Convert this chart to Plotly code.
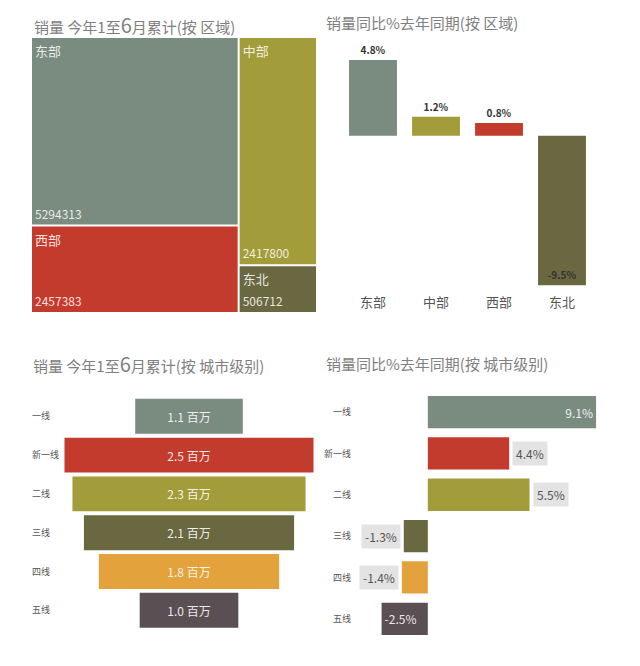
import plotly.graph_objects as go

# ---------------- data ----------------
regions = ["东部", "西部", "中部", "东北"]
region_sales = [5294313, 2457383, 2417800, 506712]
region_block = ["A", "A", "B", "B"]          # grouping used for the treemap layout

yoy_regions = ["东部", "中部", "西部", "东北"]
yoy_region_vals = [4.8, 1.2, 0.8, -9.5]

tiers = ["一线", "新一线", "二线", "三线", "四线", "五线"]
tier_sales_m = [1.08, 2.50, 2.34, 2.11, 1.81, 0.99]   # 百万
tier_yoy = [9.1, 4.4, 5.5, -1.3, -1.4, -2.5]
tier_label_pos = ["inside", "outside", "outside", "outside", "outside", "inside"]

region_colors = {"东部": "#7a8b7f", "西部": "#c33b2d", "中部": "#a39c3a", "东北": "#6a6841"}
tier_colors = ["#7a8b7f", "#c33b2d", "#a39c3a", "#6a6841", "#e3a23b", "#5a4f53"]

FONT = "Noto Sans CJK SC"
W, H = 640, 666


def px_x(p):
    return p / W


def px_y(p):
    return 1 - p / H


fig = go.Figure()

# ---------------- treemap ----------------
ids = ["root", "A", "B"] + regions
labels = ["", "", ""] + regions
parents = ["", "root", "root"] + region_block
values = [0, 0, 0] + region_sales
node_colors = ["white", "white", "white"] + [region_colors[r] for r in regions]
tm_domain = dict(x=[px_x(32), px_x(316)], y=[px_y(312), px_y(38)])

common = dict(
    ids=ids, labels=labels, parents=parents, values=values,
    branchvalues="remainder", domain=tm_domain, sort=True,
    tiling=dict(packing="slice-dice", pad=2),
    pathbar=dict(visible=False),
    hoverinfo="skip",
)
fig.add_trace(go.Treemap(
    **common,
    marker=dict(colors=node_colors, pad=dict(t=0, l=0, r=0, b=0), line=dict(width=0)),
    texttemplate=["", "", ""] + ["%{label}"] * 4,
    textposition="top left",
    textfont=dict(family=FONT, size=13, color="rgba(255,255,255,0.85)"),
))
fig.add_trace(go.Treemap(
    **common,
    marker=dict(colors=["rgba(0,0,0,0)"] * len(ids), pad=dict(t=0, l=0, r=0, b=0), line=dict(width=0)),
    texttemplate=["", "", ""] + ["%{value:d}"] * 4,
    textposition="bottom left",
    textfont=dict(family=FONT, size=12, color="rgba(255,255,255,0.85)"),
))

# ---------------- region YoY bars ----------------
fig.add_trace(go.Bar(
    x=yoy_regions, y=yoy_region_vals,
    marker=dict(color=[region_colors[r] for r in yoy_regions], line=dict(width=0)),
    width=0.76,
    text=[f"{v:.1f}%" for v in yoy_region_vals],
    textposition=["outside" if v > 0 else "inside" for v in yoy_region_vals],
    insidetextanchor="end",
    textfont=dict(family=FONT, size=10, color="#333", weight=600),
    insidetextfont=dict(family=FONT, size=10, color="#333", weight=600),
    outsidetextfont=dict(family=FONT, size=10, color="#333", weight=600),
    cliponaxis=False,
    xaxis="x", yaxis="y", hoverinfo="skip",
))

# ---------------- funnel ----------------
fig.add_trace(go.Funnel(
    y=tiers, x=tier_sales_m,
    marker=dict(color=tier_colors, line=dict(width=0)),
    texttemplate="%{x:.1f} 百万",
    textposition="inside",
    insidetextfont=dict(family=FONT, size=12, color="rgba(255,255,255,0.9)"),
    connector=dict(visible=False),
    xaxis="x2", yaxis="y2", hoverinfo="skip",
))

# ---------------- tier YoY bars ----------------
fig.add_trace(go.Bar(
    y=tiers, x=tier_yoy, orientation="h",
    marker=dict(color=tier_colors, line=dict(width=0)),
    width=0.78,
    text=[f"{v:.1f}%" if p == "inside" else "" for v, p in zip(tier_yoy, tier_label_pos)],
    textposition="inside", insidetextanchor="end",
    insidetextfont=dict(family=FONT, size=12, color="rgba(255,255,255,0.9)"),
    xaxis="x3", yaxis="y3", hoverinfo="skip",
))

annotations = []
for t, v, p in zip(tiers, tier_yoy, tier_label_pos):
    if p == "outside":
        annotations.append(dict(
            x=v, y=t, xref="x3", yref="y3", text=f"{v:.1f}%", showarrow=False,
            xanchor="left" if v > 0 else "right", xshift=3 if v > 0 else -3,
            bgcolor="#e3e3e3", borderpad=3,
            font=dict(family=FONT, size=12, color="#555"),
        ))

titles = [
    ("销量 今年1至<span style='font-size:20px'>6</span>月累计(按 区域)", 32, 25),
    ("销量同比%去年同期(按 区域)", 324, 23),
    ("销量 今年1至<span style='font-size:20px'>6</span>月累计(按 城市级别)", 31, 363),
    ("销量同比%去年同期(按 城市级别)", 324, 363),
]
for txt, x, y in titles:
    annotations.append(dict(
        text=txt, x=px_x(x), y=px_y(y), xref="paper", yref="paper",
        xanchor="left", yanchor="middle", showarrow=False,
        font=dict(family=FONT, size=15, color="#808080"),
    ))

axis_off = dict(visible=False, showgrid=False, zeroline=False, fixedrange=True)

fig.update_layout(
    width=W, height=H,
    margin=dict(l=0, r=0, t=0, b=0),
    paper_bgcolor="white", plot_bgcolor="white",
    showlegend=False,
    font=dict(family=FONT, color="#555"),
    funnelgap=0.1,
    xaxis=dict(domain=[px_x(341.5), px_x(593.5)], range=[-0.5, 3.5], showgrid=False,
               zeroline=False, showline=False, ticks="",
               tickfont=dict(family=FONT, size=13, color="#555")),
    yaxis=dict(domain=[px_y(293.2), px_y(49.1)], range=[-10, 5.5], **axis_off),
    xaxis2=dict(domain=[px_x(59.5), px_x(318.5)], range=[-1.3, 1.3], anchor="y2", **axis_off),
    yaxis2=dict(domain=[px_y(629.7), px_y(396.9)], anchor="free", position=px_x(28),
                autorange="reversed", showgrid=False, zeroline=False, showline=False,
                ticks="", ticklabelposition="inside",
                tickfont=dict(family=FONT, size=9, color="#555")),
    xaxis3=dict(domain=[px_x(352), px_x(612.7)], range=[-4.1, 10], anchor="y3", **axis_off),
    yaxis3=dict(domain=[px_y(639.5), px_y(391.35)], anchor="x3", autorange="reversed",
                showgrid=False, zeroline=False, showline=False, ticks="",
                tickfont=dict(family=FONT, size=9, color="#555")),
    annotations=annotations,
)

fig.write_html("out.html")
